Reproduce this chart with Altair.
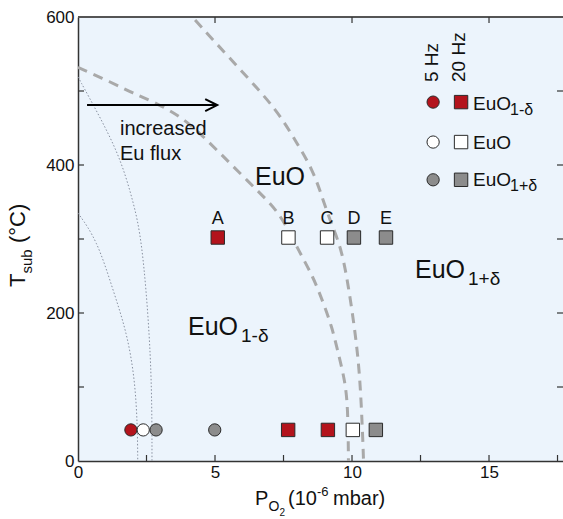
import altair as alt
import pandas as pd

FONT = "Liberation Sans"

# ---------------- data ----------------
phases = ["EuO1-δ", "EuO", "EuO1+δ"]
phase_colors = ["#b3131c", "#ffffff", "#8c8c8c"]
freqs = ["5 Hz", "20 Hz"]

# bottom row (T ~ 42 C)
bot_T = 42
bot_circle_x = [1.93, 2.38, 2.85, 4.99]
bot_circle_phase = ["EuO1-δ", "EuO", "EuO1+δ", "EuO1+δ"]
bot_square_x = [7.67, 9.12, 10.03, 10.87]
bot_square_phase = ["EuO1-δ", "EuO1-δ", "EuO", "EuO1+δ"]

# upper row (T ~ 302 C), samples A-E
top_T = 302
top_square_x = [5.10, 7.68, 9.09, 10.07, 11.24]
top_square_phase = ["EuO1-δ", "EuO", "EuO", "EuO1+δ", "EuO1+δ"]
top_labels = ["A", "B", "C", "D", "E"]

# phase boundaries (dashed)
dash1_x = [0.0, 1.2, 2.0, 2.85, 3.76, 4.45, 5.18, 5.91, 6.72, 7.37, 8.1, 8.58, 8.94, 9.27, 9.49, 9.74, 9.85, 9.87]
dash1_T = [532, 512, 497, 484, 465, 443, 416, 389, 359, 335, 281, 249, 215, 181, 147, 109, 73, 0]
dash2_x = [3.45, 4.17, 4.93, 6.17, 7.26, 7.92, 8.58, 8.94, 9.25, 9.64, 9.93, 10.15, 10.3, 10.4, 10.42]
dash2_T = [630, 600, 569, 519, 474, 434, 393, 353, 320, 285, 222, 164, 109, 24, 0]

# dotted boundaries (5 Hz)
dot1_x = [0.0, 0.69, 1.28, 1.79, 2.08, 2.17, 2.18]
dot1_T = [335, 299, 231, 173, 109, 46, 0]
dot2_x = [0.0, 0.8, 1.53, 2.0, 2.34, 2.63, 2.7, 2.7]
dot2_T = [519, 465, 411, 353, 299, 164, 73, 0]

# arrow "increased Eu flux"
arrow_x = [0.33, 5.08]
arrow_T = [481, 481]

# legend rows
legend_T = [485, 431, 380]
legend_circle_x = 12.96
legend_square_x = 13.98

x_tick_labels = [0, 5, 10, 15]
y_tick_labels = [0, 200, 400, 600]
x_minor = [2.5, 5, 7.5, 10, 12.5, 15, 17.5]
x_top = [5, 10, 15]
y_minor = [100, 200, 300, 400, 500]

# ---------------- layout ----------------
L, TOP = 78, 17
W, H = 485, 444
XMAX = 17.7

xs = alt.Scale(domain=[0, XMAX], nice=False, zero=False)
ys = alt.Scale(domain=[0, 600], nice=False, zero=False)

x_axis = alt.Axis(values=x_tick_labels, title=None, grid=False, ticks=False, tickSize=0,
                  labelFont=FONT, labelFontSize=17, labelPadding=3, labelColor="#111",
                  labelFlush=False, domainColor="#333", domainWidth=1.5)
y_axis = alt.Axis(values=y_tick_labels, title=None, grid=False, ticks=False, tickSize=0,
                  labelFont=FONT, labelFontSize=17, labelPadding=4, labelColor="#111",
                  labelFlush=False, domainColor="#333", domainWidth=1.5)


def X(f):
    return alt.X(f, type="quantitative", scale=xs, axis=x_axis)


def Y(f):
    return alt.Y(f, type="quantitative", scale=ys, axis=y_axis)


color_enc = alt.Color("phase:N", scale=alt.Scale(domain=phases, range=phase_colors), legend=None)
shape_enc = alt.Shape("freq:N", scale=alt.Scale(domain=freqs, range=["circle", "square"]), legend=None)
size_enc = alt.Size("freq:N", scale=alt.Scale(domain=freqs, range=[150, 180]), legend=None)

rows = []
for x, p in zip(bot_circle_x, bot_circle_phase):
    rows.append({"x": x, "T": bot_T, "phase": p, "freq": "5 Hz", "lab": ""})
for x, p in zip(bot_square_x, bot_square_phase):
    rows.append({"x": x, "T": bot_T, "phase": p, "freq": "20 Hz", "lab": ""})
top_rows = []
for x, p, l in zip(top_square_x, top_square_phase, top_labels):
    top_rows.append({"x": x, "T": top_T, "phase": p, "freq": "20 Hz", "lab": l})
pts = pd.DataFrame(rows + top_rows)
top_df = pd.DataFrame(top_rows)

leg_rows = []
for t, p in zip(legend_T, phases):
    leg_rows.append({"x": legend_circle_x, "T": t, "phase": p, "freq": "5 Hz"})
    leg_rows.append({"x": legend_square_x, "T": t, "phase": p, "freq": "20 Hz"})
leg_df = pd.DataFrame(leg_rows)


def curve_df(name, xv, tv):
    return pd.DataFrame({"x": xv, "T": tv, "i": list(range(len(xv))), "curve": name})


dash_df = pd.concat([curve_df("c1", dash1_x, dash1_T), curve_df("c2", dash2_x, dash2_T)])
dot_df = pd.concat([curve_df("d1", dot1_x, dot1_T), curve_df("d2", dot2_x, dot2_T)])
arrow_df = pd.DataFrame({"x": arrow_x, "T": arrow_T})

layers = []

layers.append(
    alt.Chart(dash_df).mark_line(clip=True, interpolate="basis", strokeDash=[10, 7],
                                 strokeWidth=3, color="#a9a9a9")
    .encode(x=X("x"), y=Y("T"), detail="curve:N", order="i:Q")
)
layers.append(
    alt.Chart(dot_df).mark_line(clip=True, interpolate="basis", strokeDash=[1.5, 2],
                                strokeWidth=1, color="#8890a0")
    .encode(x=X("x"), y=Y("T"), detail="curve:N", order="i:Q")
)

# frame: top border and inward ticks
layers.append(alt.Chart(alt.Data(values=[{"v": 600}])).mark_rule(color="#555", strokeWidth=1.8)
              .encode(y=Y("v:Q")))
layers.append(alt.Chart(pd.DataFrame({"v": x_minor})).mark_rule(color="#333", strokeWidth=1.2)
              .encode(x=X("v"), y=alt.value(H), y2=alt.value(H - 6)))
layers.append(alt.Chart(pd.DataFrame({"v": x_top})).mark_rule(color="#333", strokeWidth=1.2)
              .encode(x=X("v"), y=alt.value(0), y2=alt.value(6)))
layers.append(alt.Chart(pd.DataFrame({"v": y_minor})).mark_rule(color="#333", strokeWidth=1.2)
              .encode(y=Y("v"), x=alt.value(0), x2=alt.value(6)))
layers.append(alt.Chart(pd.DataFrame({"v": y_minor})).mark_rule(color="#333", strokeWidth=1.2)
              .encode(y=Y("v"), x=alt.value(W), x2=alt.value(W - 6)))

# arrow
layers.append(alt.Chart(arrow_df).mark_line(color="black", strokeWidth=2)
              .encode(x=X("x"), y=Y("T")))
layers.append(alt.Chart(arrow_df.tail(1)).mark_point(shape="M-1,-0.5L0,0L-1,0.5", filled=False,
                                                     size=576, stroke="black", strokeWidth=2,
                                                     opacity=1)
              .encode(x=X("x"), y=Y("T")))

# data points
layers.append(alt.Chart(pts).mark_point(filled=True, stroke="#2a2a2a", strokeWidth=1, opacity=1)
              .encode(x=X("x"), y=Y("T"), fill=color_enc, shape=shape_enc, size=size_enc))
layers.append(alt.Chart(top_df).mark_text(font=FONT, fontSize=18, dy=-14, baseline="alphabetic",
                                          color="#111")
              .encode(x=X("x"), y=Y("T"), text="lab:N"))

# legend symbols
layers.append(alt.Chart(leg_df).mark_point(filled=True, stroke="#2a2a2a", strokeWidth=1, opacity=1)
              .encode(x=X("x"), y=Y("T"), fill=color_enc, shape=shape_enc, size=size_enc))


def label(px, py, s, size, angle=0, align="left"):
    return (alt.Chart(alt.Data(values=[{}]))
            .mark_text(text=s, font=FONT, fontSize=size, align=align, baseline="alphabetic",
                       angle=angle, color="#111")
            .encode(x=alt.value(px - L), y=alt.value(py - TOP)))


# region labels
layers += [
    label(255, 185, "EuO", 25),
    label(188, 335, "EuO", 25), label(241, 342, "1-δ", 19),
    label(415, 278, "EuO", 25), label(468, 285, "1+δ", 19),
    label(120, 135, "increased", 20), label(120, 160, "Eu flux", 20),
]

# legend texts
layers += [
    label(438, 82, "5 Hz", 19, angle=270),
    label(465, 82, "20 Hz", 19, angle=270),
    label(473, 110, "EuO", 19), label(510, 115, "1-δ", 16),
    label(473, 149, "EuO", 19),
    label(473, 186, "EuO", 19), label(510, 191, "1+δ", 16),
]

# axis titles (with sub/superscripts)
layers += [
    label(255, 505, "P", 20), label(268.5, 511, "O", 14), label(279.5, 516, "2", 10),
    label(288, 505, "(10", 20), label(317, 496, "-6", 13), label(333, 505, "mbar)", 20),
    label(25, 287, "T", 22, angle=270), label(32, 273.6, "sub", 15, angle=270),
    label(25, 243, "(°C)", 22, angle=270),
]

chart = (alt.layer(*layers)
         .properties(width=W, height=H,
                     padding={"left": L, "top": TOP, "right": 0, "bottom": 519 - TOP - H},
                     autosize=alt.AutoSizeParams(type="none"),
                     background="white")
         .configure_view(fill="#ecf4fc", strokeOpacity=0))

chart.save("out.html", embed_options={"renderer": "svg", "actions": False})
